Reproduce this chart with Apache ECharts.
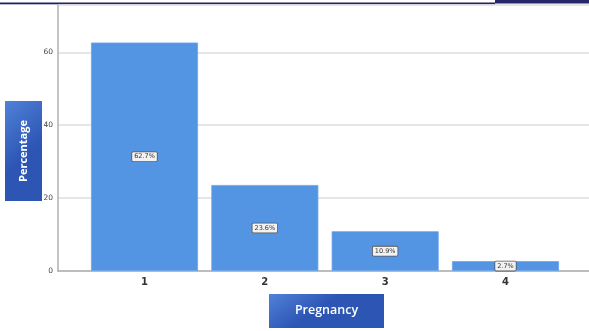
<!DOCTYPE html>
<html>
<head>
<meta charset="utf-8">
<script src="https://cdn.jsdelivr.net/npm/echarts@6/dist/echarts.min.js"></script>
<style>
  html, body { margin: 0; padding: 0; background: #fff; }
  #chart { width: 589px; height: 331px; }
</style>
</head>
<body>
<div id="chart"></div>
<script>
// Number of pregnancies and the share of respondents in each group
const categories = [1, 2, 3, 4];
const percentages = [62.7, 23.6, 10.9, 2.7];
const yTicks = [0, 20, 40, 60];

const chart = echarts.init(document.getElementById('chart'), null, { renderer: 'canvas' });

const titleGradient = (x2, y2) => new echarts.graphic.LinearGradient(0, 0, x2, y2, [
  { offset: 0, color: '#5082d8' },
  { offset: 1, color: '#2d55b4' }
]);

chart.setOption({
  animation: false,
  backgroundColor: '#ffffff',
  grid: { left: 58, right: 0, top: 5, bottom: 60 },
  xAxis: {
    type: 'value',
    min: 0.281,
    max: 4.694,
    splitLine: { show: false },
    axisLine: { show: true, onZero: false, lineStyle: { color: '#b0b0b0', width: 1.5 } },
    axisTick: { show: false },
    axisLabel: {
      customValues: categories,
      formatter: v => String(v),
      color: '#333',
      fontSize: 10,
      fontWeight: 'bold',
      fontFamily: 'DejaVu Sans',
      margin: 6
    }
  },
  yAxis: {
    type: 'value',
    min: 0,
    max: 73,
    interval: 20,
    axisLine: { show: true, lineStyle: { color: '#b0b0b0', width: 1.5 } },
    axisTick: { show: false },
    splitLine: { show: true, lineStyle: { color: '#dedede', width: 1.5 } },
    axisLabel: {
      customValues: yTicks,
      color: '#444',
      fontSize: 7.5,
      fontFamily: 'DejaVu Sans',
      margin: 5
    }
  },
  series: [{
    type: 'bar',
    barWidth: 107,
    data: categories.map((c, i) => [c, percentages[i]]),
    itemStyle: { color: '#5394e3', borderColor: '#6aa4ea', borderWidth: 0.8 },
    label: {
      show: true,
      position: 'inside',
      formatter: p => p.value[1].toFixed(1) + '%',
      fontSize: 6.5,
      fontFamily: 'DejaVu Sans',
      color: '#333',
      backgroundColor: '#f2f2f2',
      borderColor: '#555',
      borderWidth: 0.8,
      borderRadius: 1,
      padding: [1, 2, 1, 2]
    }
  }],
  graphic: [
    // header rule and corner block
    { type: 'rect', shape: { x: 0, y: 2.5, width: 495, height: 1.5 }, style: { fill: '#23235e' }, silent: true },
    { type: 'rect', shape: { x: 0, y: 4, width: 495, height: 1 }, style: { fill: '#b4b8d6' }, silent: true },
    { type: 'rect', shape: { x: 495, y: 0, width: 94, height: 3.5 }, style: { fill: '#26266a' }, silent: true },
    // y axis title box
    {
      type: 'group', left: 5, top: 101,
      children: [
        { type: 'rect', shape: { x: 0, y: 0, width: 37, height: 100 }, style: { fill: titleGradient(1, 0.4) } },
        {
          type: 'text', x: 18.5, y: 50, rotation: Math.PI / 2,
          style: { text: 'Percentage', fill: '#ffffff', fontSize: 11, fontWeight: 'bold', fontFamily: 'Open Sans', align: 'center', verticalAlign: 'middle' }
        }
      ]
    },
    // x axis title box
    {
      type: 'group', left: 269, top: 294,
      children: [
        { type: 'rect', shape: { x: 0, y: 0, width: 115, height: 34 }, style: { fill: titleGradient(0.2, 1) } },
        {
          type: 'text', x: 57.5, y: 16.5,
          style: { text: 'Pregnancy', fill: '#ffffff', fontSize: 12.5, fontWeight: 600, fontFamily: 'Open Sans', align: 'center', verticalAlign: 'middle' }
        }
      ]
    }
  ]
});
</script>
</body>
</html>
